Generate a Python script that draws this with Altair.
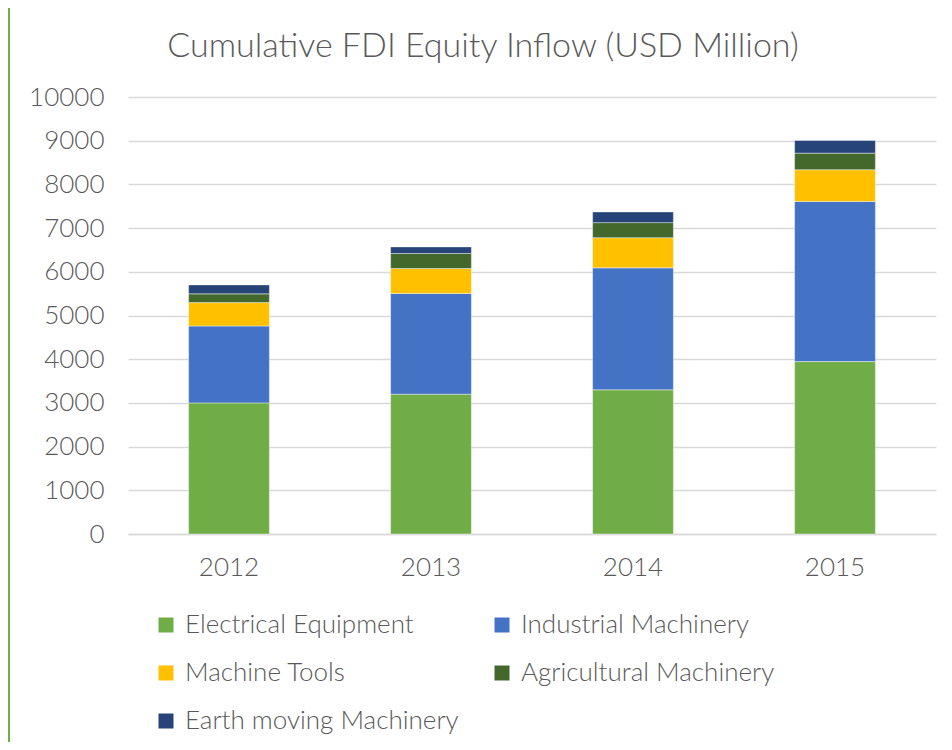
import altair as alt
import pandas as pd

years = ["2012", "2013", "2014", "2015"]
series = ["Electrical Equipment", "Industrial Machinery", "Machine Tools",
          "Agricultural Machinery", "Earth moving Machinery"]
electrical = [3000, 3200, 3300, 3945]
industrial = [1760, 2305, 2790, 3665]
machine_tools = [535, 570, 690, 725]
agricultural = [200, 345, 345, 380]
earth_moving = [205, 150, 245, 290]
colors = ["#70AD47", "#4472C4", "#FFC000", "#43682B", "#264478"]
y_ticks = [0, 1000, 2000, 3000, 4000, 5000, 6000, 7000, 8000, 9000, 10000]

values = [electrical, industrial, machine_tools, agricultural, earth_moving]
rows = []
for si, (name, vals) in enumerate(zip(series, values)):
    for yr, v in zip(years, vals):
        rows.append({"Year": yr, "Series": name, "Value": v, "order": si})
df = pd.DataFrame(rows)

# legend fills column by column: reorder so rows read left-to-right like the reference
legend_idx = [0, 2, 4, 1, 3]
legend_domain = [series[i] for i in legend_idx]
legend_range = [colors[i] for i in legend_idx]

FONT = "Lato"
GRAY = "#595959"

bars = alt.Chart(df).mark_bar(stroke="white", strokeWidth=0.7, strokeOpacity=0.6).encode(
    x=alt.X("Year:N", sort=years, title=None,
            scale=alt.Scale(paddingInner=0.6, paddingOuter=0.3),
            axis=alt.Axis(labelAngle=0, labelFontSize=26, labelColor=GRAY, labelFont=FONT,
                          labelFontWeight=300, ticks=False, domain=True, domainColor="#D9D9D9",
                          domainWidth=1.5, labelPadding=20)),
    y=alt.Y("Value:Q", stack="zero", title=None,
            scale=alt.Scale(domain=[0, 10000], nice=False),
            axis=alt.Axis(values=y_ticks, format="d", labelFontSize=26, labelColor=GRAY,
                          labelFont=FONT, labelFontWeight=300, ticks=False, domain=False,
                          gridColor="#D9D9D9", gridWidth=1.5, labelPadding=24)),
    color=alt.Color("Series:N",
                    scale=alt.Scale(domain=legend_domain, range=legend_range),
                    legend=alt.Legend(title=None, orient="none", legendX=25, legendY=515,
                                      columns=2, columnPadding=30, rowPadding=22,
                                      symbolType="square", symbolSize=225, symbolStrokeWidth=0,
                                      labelFontSize=26, labelFont=FONT, labelFontWeight=300,
                                      labelColor=GRAY, labelOffset=6, padding=0,
                                      labelLimit=400)),
    order=alt.Order("order:Q", sort="ascending"),
)

border = alt.Chart(pd.DataFrame({"a": [0]})).mark_rule(color="#70AD47", strokeWidth=2).encode(
    x=alt.value(-119), y=alt.value(-89), y2=alt.value(645)
)

chart = alt.layer(bars, border).properties(
    width=808, height=437,
    title=alt.TitleParams("Cumulative FDI Equity Inflow (USD Million)", fontSize=34,
                          font=FONT, fontWeight=300, color=GRAY, anchor="middle", dx=-49,
                          offset=0, baseline="alphabetic", dy=84),
    autosize=alt.AutoSizeParams(type="none"),
    padding={"left": 120, "top": 89, "right": 8, "bottom": 208},
).configure_view(stroke=None)

chart.save("out.html", embed_options={"renderer": "svg", "actions": False})
